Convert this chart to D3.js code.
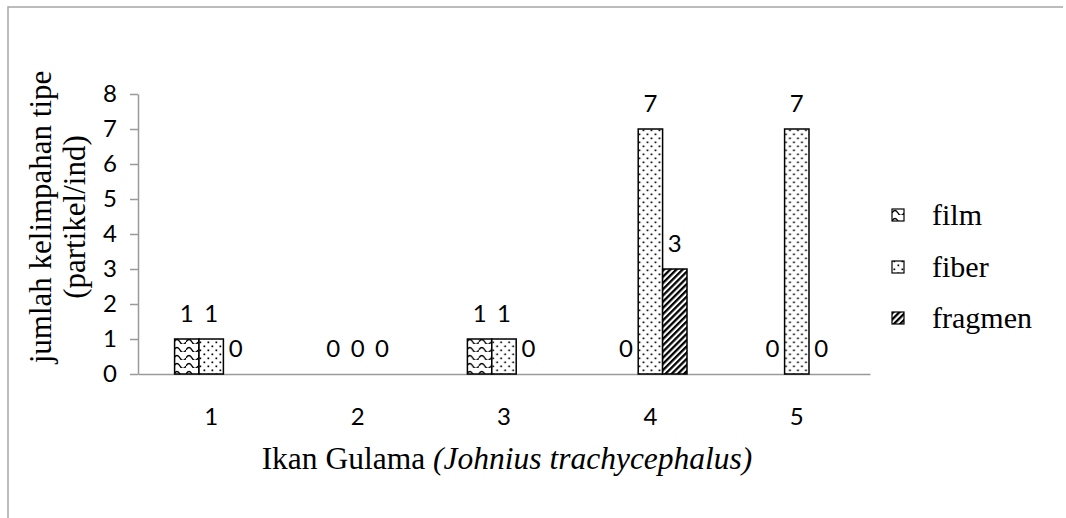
<!DOCTYPE html>
<html>
<head>
<meta charset="utf-8">
<script src="https://cdn.jsdelivr.net/npm/d3@7"></script>
<style>
  body { margin: 0; background: #fff; }
</style>
</head>
<body>
<script>
const categories = ["1", "2", "3", "4", "5"];
const seriesNames = ["film", "fiber", "fragmen"];
const film = [1, 0, 1, 0, 0];
const fiber = [1, 0, 1, 7, 7];
const fragmen = [0, 0, 0, 3, 0];
const yTicks = [0, 1, 2, 3, 4, 5, 6, 7, 8];

const values = { film, fiber, fragmen };

const width = 1066;
const height = 518;
const plot = { left: 138, right: 870, top: 94, bottom: 374 };
const sans = "Lato, 'Open Sans', sans-serif";
const serif = "'Liberation Serif', 'Times New Roman', serif";

const svg = d3.select("body").append("svg")
  .attr("width", width)
  .attr("height", height);

// fill patterns like the Excel ones
const defs = svg.append("defs");

const pFilm = defs.append("pattern")
  .attr("id", "p-film")
  .attr("patternUnits", "userSpaceOnUse")
  .attr("width", 12).attr("height", 8);
pFilm.append("rect").attr("width", 12).attr("height", 8).attr("fill", "#fff");
pFilm.append("path")
  .attr("d", "M0,6 Q3,1 6,6 T12,6")
  .attr("fill", "none").attr("stroke", "#000").attr("stroke-width", 1.4);

const pFiber = defs.append("pattern")
  .attr("id", "p-fiber")
  .attr("patternUnits", "userSpaceOnUse")
  .attr("width", 8).attr("height", 8);
pFiber.append("rect").attr("width", 8).attr("height", 8).attr("fill", "#fff");
pFiber.append("rect").attr("x", 1.5).attr("y", 1.5).attr("width", 1.7).attr("height", 1.7).attr("fill", "#000");
pFiber.append("rect").attr("x", 5.5).attr("y", 5.5).attr("width", 1.7).attr("height", 1.7).attr("fill", "#000");

const pFrag = defs.append("pattern")
  .attr("id", "p-fragmen")
  .attr("patternUnits", "userSpaceOnUse")
  .attr("width", 4.4).attr("height", 8)
  .attr("patternTransform", "rotate(45)");
pFrag.append("rect").attr("width", 4.4).attr("height", 8).attr("fill", "#fff");
pFrag.append("rect").attr("width", 2.3).attr("height", 8).attr("fill", "#000");

const fills = { film: "url(#p-film)", fiber: "url(#p-fiber)", fragmen: "url(#p-fragmen)" };

// outer chart frame (only top and left edges are in view)
svg.append("path")
  .attr("d", `M8,${height} V7 H${width - 3}`)
  .attr("fill", "none")
  .attr("stroke", "#a6a6a6")
  .attr("stroke-width", 1.5);

const x0 = d3.scaleBand().domain(categories).range([plot.left, plot.right]);
const x1 = d3.scaleBand().domain(seriesNames)
  .range([x0.bandwidth() * 0.25, x0.bandwidth() * 0.75]);
const y = d3.scaleLinear().domain([0, 8]).range([plot.bottom, plot.top]);

// y axis
const yAxis = svg.append("g")
  .attr("transform", `translate(${plot.left},0)`)
  .call(d3.axisLeft(y).tickValues(yTicks).tickSize(8).tickPadding(13).tickSizeOuter(0));
yAxis.select(".domain").attr("stroke", "#9a9a9a").attr("stroke-width", 1.5);
yAxis.selectAll(".tick line").attr("stroke", "#9a9a9a").attr("stroke-width", 1.5);
yAxis.selectAll(".tick text")
  .attr("font-family", sans)
  .attr("font-size", 24)
  .attr("fill", "#000");

// x axis
const xAxis = svg.append("g")
  .attr("transform", `translate(0,${plot.bottom})`)
  .call(d3.axisBottom(x0).tickSize(0).tickPadding(34).tickSizeOuter(0));
xAxis.select(".domain").attr("stroke", "#9a9a9a").attr("stroke-width", 1.5);
xAxis.selectAll(".tick text")
  .attr("font-family", sans)
  .attr("font-size", 24)
  .attr("fill", "#000");

// bars
const rows = categories.map((c, i) => ({
  cat: c,
  items: seriesNames.map((s) => ({ key: s, value: values[s][i] }))
}));

const group = svg.append("g")
  .selectAll("g")
  .data(rows)
  .join("g")
  .attr("transform", (d) => `translate(${x0(d.cat)},0)`);

group.selectAll("rect")
  .data((d) => d.items)
  .join("rect")
  .attr("x", (d) => x1(d.key))
  .attr("y", (d) => y(d.value))
  .attr("width", x1.bandwidth())
  .attr("height", (d) => y(0) - y(d.value))
  .attr("fill", (d) => fills[d.key])
  .attr("stroke", "#000")
  .attr("stroke-width", 1.5);

group.selectAll("text")
  .data((d) => d.items)
  .join("text")
  .attr("x", (d) => x1(d.key) + x1.bandwidth() / 2)
  .attr("y", (d) => y(d.value) - 17)
  .attr("text-anchor", "middle")
  .attr("font-family", sans)
  .attr("font-size", 24)
  .text((d) => d.value);

// axis titles
const yTitle = svg.append("text")
  .attr("transform", "translate(0,217) rotate(-90)")
  .attr("text-anchor", "middle")
  .attr("font-family", serif)
  .attr("font-size", 31);
yTitle.append("tspan").attr("x", 0).attr("y", 51).text("jumlah kelimpahan tipe");
yTitle.append("tspan").attr("x", 0).attr("y", 85).text("(partikel/ind)");

const xTitle = svg.append("text")
  .attr("x", 507)
  .attr("y", 469)
  .attr("text-anchor", "middle")
  .attr("font-family", serif)
  .attr("font-size", 31.5);
xTitle.append("tspan").text("Ikan Gulama ");
xTitle.append("tspan").attr("font-style", "italic").text("(Johnius trachycephalus)");

// legend
const legend = svg.append("g")
  .selectAll("g")
  .data(seriesNames)
  .join("g")
  .attr("transform", (d, i) => `translate(892,${[215, 267, 318][i]})`);

legend.append("rect")
  .attr("x", 0).attr("y", -6)
  .attr("width", 12).attr("height", 12)
  .attr("fill", (d) => fills[d])
  .attr("stroke", "#000")
  .attr("stroke-width", 1.2);

legend.append("text")
  .attr("x", 40)
  .attr("dy", "0.32em")
  .attr("font-family", serif)
  .attr("font-size", 30)
  .text((d) => d);
</script>
</body>
</html>
